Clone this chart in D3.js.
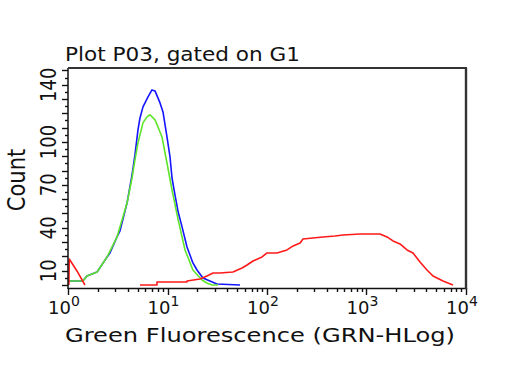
<!DOCTYPE html>
<html>
<head>
<meta charset="utf-8">
<script src="https://cdn.jsdelivr.net/npm/d3@7"></script>
<style>
  html, body { margin: 0; padding: 0; background: #fff; }
  svg { display: block; }
  text { font-family: "DejaVu Sans", Verdana, sans-serif; fill: #111; }
</style>
</head>
<body>
<svg id="chart" width="512" height="384"></svg>
<script>
// ---- data ----
const titleText = "Plot P03, gated on G1";
const xLabelText = "Green Fluorescence (GRN-HLog)";
const yLabelText = "Count";
const xTickExps = [0, 1, 2, 3, 4];
const yTickLabels = [10, 40, 70, 100, 140];

const blueX = [1, 1.41, 1.55, 1.96, 2.47, 2.64, 3.11, 3.33, 3.92, 4.40, 4.71, 5.05, 5.29, 5.67, 6.37, 6.98, 7.49, 8.41, 9.01, 9.88, 10.6, 11.1, 11.9, 12.8, 14.0, 15.7, 18.0, 19.8, 22.7, 26.7, 31.4, 53.5];
const blueY = [2.8, 2.8, 6.3, 9.1, 19.6, 22.4, 33.6, 37.8, 57.3, 76.9, 90.9, 108.4, 116.8, 124.5, 131.5, 136.4, 135.7, 127.3, 121, 103.5, 89.5, 74.8, 62.9, 51.0, 40.6, 26.6, 15.4, 10.5, 4.9, 2.8, 0.7, 0];

const greenX = [1, 1.41, 1.55, 1.96, 2.47, 3.11, 3.92, 4.40, 4.71, 5.05, 5.67, 6.22, 6.67, 7.49, 8.03, 8.80, 9.88, 11.1, 12.8, 15.0, 18.0, 22.2, 24.9, 28.0, 32.2];
const greenY = [2.8, 2.8, 6.3, 9.1, 19.6, 33.6, 57.3, 74.8, 87.4, 99.3, 113.3, 117.5, 119, 115.4, 110.5, 103.5, 85.3, 66.4, 45.5, 24.5, 10.5, 3.5, 1.4, 0, 0];

const redLowX = [1.02, 1.03, 1.23, 1.48];
const redLowY = [0, 18.2, 9.8, 0];

const redX = [5.29, 7.84, 7.84, 15.7, 15.7, 21.2, 24.9, 28.7, 33.7, 45.5, 56.1, 63.0, 72.3, 89.1, 100, 126, 159, 183, 215, 230, 290, 366, 482, 581, 860, 1367, 1607, 1847, 2171, 2553, 2934, 3449, 4055, 4660, 5873, 7401];
const redY = [0, 0, 2.1, 2.1, 2.8, 4.2, 6.3, 8.4, 8.4, 9.1, 11.9, 14.0, 16.8, 19.6, 22.4, 22.4, 24.5, 27.3, 29.4, 32.2, 32.9, 33.6, 34.3, 35.0, 35.7, 35.7, 33.6, 30.8, 28.7, 24.5, 22.4, 16.1, 10.5, 6.3, 2.8, 0];

// ---- layout ----
const L = 68, R = 466, T = 68, B = 288;
const svg = d3.select("#chart");

const x = d3.scaleLog().domain([1, 1e4]).range([L, R]);
const y = d3.scaleLinear().domain([-2.1, 151.7]).range([B, T]);

// title
svg.append("text")
  .attr("x", 65).attr("y", 61)
  .attr("font-size", 19)
  .attr("textLength", 235).attr("lengthAdjust", "spacingAndGlyphs")
  .text(titleText);

// x label
svg.append("text")
  .attr("x", 65).attr("y", 342)
  .attr("font-size", 19)
  .attr("textLength", 390).attr("lengthAdjust", "spacingAndGlyphs")
  .text(xLabelText);

// y label
svg.append("g")
  .attr("transform", "translate(25,180) scale(1.2,1) rotate(-90)")
  .append("text")
  .attr("text-anchor", "middle")
  .attr("font-size", 21)
  .text(yLabelText);

// y ticks: major every 10, minor every 5
const yMinor = d3.range(0, 151, 5);
svg.append("g").selectAll("line").data(yMinor).join("line")
  .attr("x1", d => d % 10 === 0 ? L - 6 : L - 3)
  .attr("x2", L)
  .attr("y1", d => Math.round(y(d)) + 0.5)
  .attr("y2", d => Math.round(y(d)) + 0.5)
  .attr("stroke", "#111").attr("stroke-width", 1.4);

// y tick labels (rotated)
svg.append("g").selectAll("g").data(yTickLabels).join("g")
  .attr("transform", d => `translate(56,${y(d)}) scale(1.2,1) rotate(-90)`)
  .append("text")
  .attr("text-anchor", "middle")
  .attr("font-size", 18)
  .text(d => d);

// x ticks: majors at decades, minors 2..9
const xMinor = [];
for (let e = 0; e < 4; e++) for (let m = 1; m < 10; m++) xMinor.push(m * Math.pow(10, e));
xMinor.push(1e4);
svg.append("g").selectAll("line").data(xMinor).join("line")
  .attr("x1", d => Math.round(x(d)) + 0.5)
  .attr("x2", d => Math.round(x(d)) + 0.5)
  .attr("y1", B)
  .attr("y2", d => Number.isInteger(Math.log10(d)) && Math.abs(Math.log10(d) - Math.round(Math.log10(d))) < 1e-9 ? B + 7 : B + 4)
  .attr("stroke", "#111").attr("stroke-width", 1.4);

// x tick labels 10^n
const xl = svg.append("g").selectAll("text").data(xTickExps).join("text")
  .attr("x", d => x(Math.pow(10, d)) - 4)
  .attr("y", 314)
  .attr("text-anchor", "middle")
  .attr("font-size", 18);
xl.append("tspan").text("10");
xl.append("tspan").attr("dy", -8).attr("font-size", 14).text(d => d);

// curves
const line = d3.line().x(d => x(d[0])).y(d => y(d[1]));
function draw(xs, ys, color) {
  svg.append("path")
    .datum(xs.map((v, i) => [v, ys[i]]))
    .attr("d", line)
    .attr("fill", "none")
    .attr("stroke", color)
    .attr("stroke-width", 1.6)
    .attr("stroke-linejoin", "round");
}
draw(blueX, blueY, "#1515ff");
draw(greenX, greenY, "#5fe52a");
draw(redLowX, redLowY, "#ff1a1a");
draw(redX, redY, "#ff1a1a");

// frame
svg.append("line").attr("x1", L).attr("x2", L).attr("y1", T).attr("y2", B + 1)
  .attr("stroke", "#111").attr("stroke-width", 1.5);
svg.append("line").attr("x1", L).attr("x2", R).attr("y1", B + 0.5).attr("y2", B + 0.5)
  .attr("stroke", "#111").attr("stroke-width", 1.5);
svg.append("line").attr("x1", L).attr("x2", R + 1).attr("y1", T).attr("y2", T)
  .attr("stroke", "#333").attr("stroke-width", 2.2);
svg.append("line").attr("x1", R).attr("x2", R).attr("y1", T).attr("y2", B + 1)
  .attr("stroke", "#333").attr("stroke-width", 2.4);
</script>
</body>
</html>
